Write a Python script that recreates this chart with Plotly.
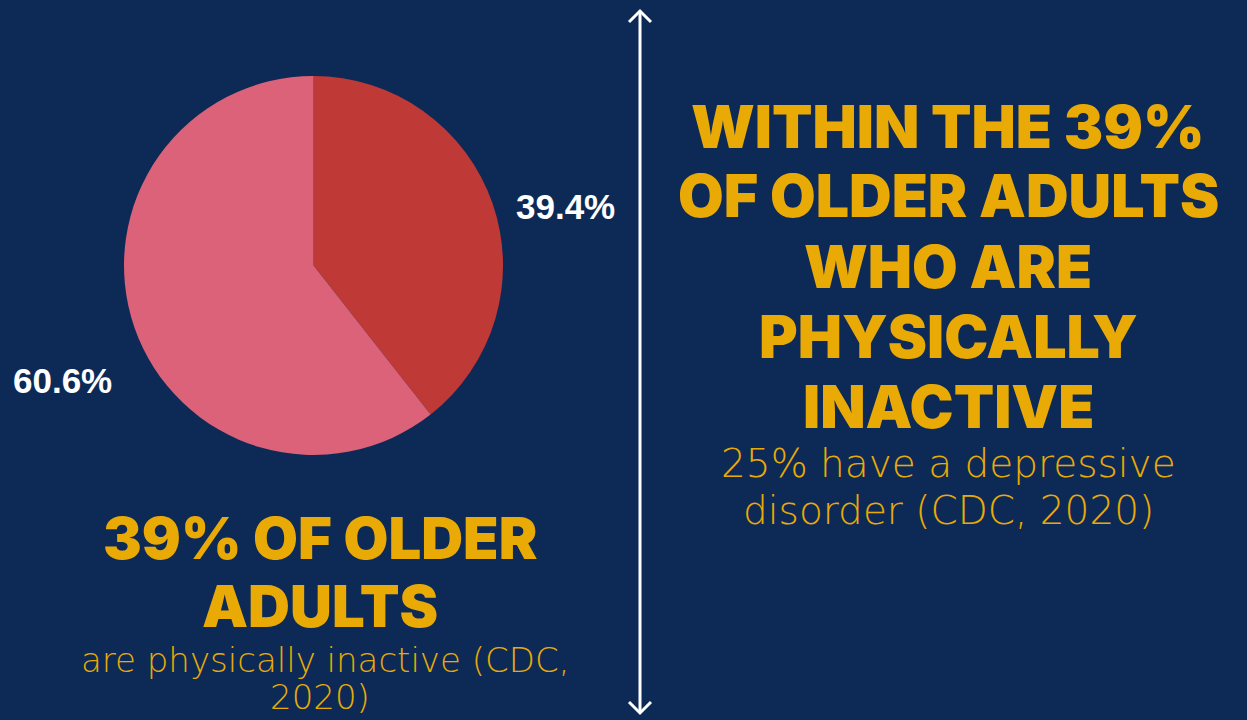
import plotly.graph_objects as go

# Data
labels = ["Physically inactive", "Active"]
values = [39.4, 60.6]
colors = ["#bf3a36", "#db6278"]

BG = "#0d2a56"
YEL = "#e9aa06"
W, H = 1247, 720

fig = go.Figure()
fig.add_trace(go.Pie(
    labels=labels, values=values, sort=False, direction="clockwise", rotation=0,
    marker=dict(colors=colors, line=dict(width=0)),
    textinfo="none",
    domain=dict(x=[124/W, 503/W], y=[1-455/H, 1-76/H]),
    showlegend=False, hoverinfo="label+percent",
))

annos = []
def txt(x, y, s, size, weight=900, family="Inter", color=YEL):
    annos.append(dict(x=x/W, y=1-y/H, xref="paper", yref="paper", text=s, showarrow=False,
                      xanchor="center", yanchor="middle",
                      font=dict(color=color, size=size, family=family, weight=weight)))

# pie value labels (outside the slices)
total = sum(values)
label_pos = [(565, 206), (62, 380)]
for v, (x, y) in zip(values, label_pos):
    txt(x, y, f"{v/total*100:.1f}%", 35, weight="bold", family="Liberation Sans", color="white")

right_lines = ["WITHIN THE 39%", "OF OLDER ADULTS", "WHO ARE", "PHYSICALLY", "INACTIVE"]
for i, s in enumerate(right_lines):
    txt(948, 126 + i*70, s, 59)
txt(948, 463, "25% have a depressive", 39, weight=300, family="DejaVu Sans")
txt(948, 510, "disorder (CDC, 2020)", 39, weight=300, family="DejaVu Sans")

txt(320, 538, "39% OF OLDER", 58)
txt(320, 606, "ADULTS", 58)
txt(325, 660, "are physically inactive (CDC,", 34, weight=300, family="DejaVu Sans")
txt(320, 697, "2020)", 34, weight=300, family="DejaVu Sans")

shapes = [
    dict(type="line", xref="paper", yref="paper", x0=640/W, x1=640/W, y0=1-11/H, y1=1-713/H,
         line=dict(color="white", width=3)),
    dict(type="path", xref="paper", yref="paper",
         path=f"M {629/W},{1-22/H} L {640/W},{1-11/H} L {651/W},{1-22/H}",
         line=dict(color="white", width=3)),
    dict(type="path", xref="paper", yref="paper",
         path=f"M {629/W},{1-702/H} L {640/W},{1-713/H} L {651/W},{1-702/H}",
         line=dict(color="white", width=3)),
]

fig.update_layout(width=W, height=H, margin=dict(l=0, r=0, t=0, b=0),
                  paper_bgcolor=BG, plot_bgcolor=BG, annotations=annos, shapes=shapes)
fig.write_html("out.html", config={"displayModeBar": False},
               post_script="document.body.style.margin='0';document.body.style.overflow='hidden';")
